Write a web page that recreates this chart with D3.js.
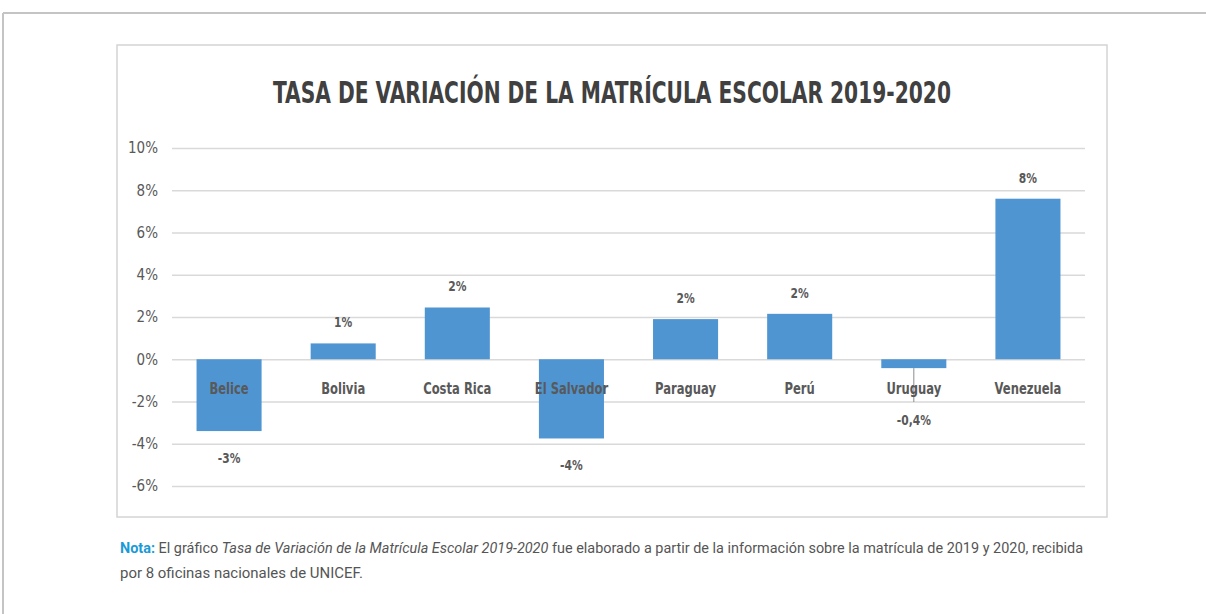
<!DOCTYPE html>
<html>
<head>
<meta charset="utf-8">
<script src="https://cdn.jsdelivr.net/npm/d3@7"></script>
<style>
  body { margin: 0; background: #fff; }
  svg { display: block; font-family: "DejaVu Sans Condensed", "Liberation Sans Narrow", sans-serif; }
</style>
</head>
<body>
<svg width="1206" height="614"></svg>
<script>
const svg = d3.select("svg");

// data
const countries = ["Belice", "Bolivia", "Costa Rica", "El Salvador", "Paraguay", "Perú", "Uruguay", "Venezuela"];
const rates = [-3.4, 0.75, 2.45, -3.75, 1.9, 2.15, -0.42, 7.6];
const rateLabels = ["-3%", "1%", "2%", "-4%", "2%", "2%", "-0,4%", "8%"];
const yTicks = [-6, -4, -2, 0, 2, 4, 6, 8, 10];

const grey = "#595959";

// page frame
svg.append("line").attr("x1", 3).attr("x2", 1206).attr("y1", 13).attr("y2", 13)
    .attr("stroke", "#c4c4c4").attr("stroke-width", 2);
svg.append("line").attr("x1", 3).attr("x2", 3).attr("y1", 13).attr("y2", 614)
    .attr("stroke", "#c4c4c4").attr("stroke-width", 2);

// chart box
svg.append("rect").attr("x", 117).attr("y", 45).attr("width", 990).attr("height", 472)
    .attr("fill", "#fff").attr("stroke", "#d4d4d4").attr("stroke-width", 1.5);

svg.append("text")
    .attr("x", 612).attr("y", 103)
    .attr("text-anchor", "middle")
    .attr("font-weight", "bold")
    .attr("font-size", 30)
    .attr("fill", "#404040")
    .attr("textLength", 678).attr("lengthAdjust", "spacingAndGlyphs")
    .text("TASA DE VARIACIÓN DE LA MATRÍCULA ESCOLAR 2019-2020");

const left = 172, right = 1085;
const y = d3.scaleLinear().domain([-6, 10]).range([486, 148]);
const x = d3.scaleBand().domain(countries).range([left, right]).paddingInner(0.43).paddingOuter(0.215);

// gridlines + y labels
const yAxis = d3.axisLeft(y).tickValues(yTicks).tickSize(-(right - left)).tickFormat(d => d + "%");
const gy = svg.append("g").attr("transform", `translate(${left},0)`).call(yAxis);
gy.select(".domain").remove();
gy.selectAll(".tick line").attr("stroke", "#d9d9d9").attr("stroke-width", 1.3);
gy.selectAll(".tick text").attr("x", -14).attr("fill", grey).attr("font-size", 15)
    .attr("font-family", "DejaVu Sans Condensed, sans-serif");

// bars
svg.selectAll("rect.bar")
    .data(rates)
    .enter()
    .append("rect")
    .attr("class", "bar")
    .attr("x", (d, i) => x(countries[i]))
    .attr("width", x.bandwidth())
    .attr("y", d => y(Math.max(0, d)))
    .attr("height", d => Math.abs(y(d) - y(0)))
    .attr("fill", "#4f95d2");

// Uruguay leader line
const uru = x("Uruguay") + x.bandwidth() / 2;
svg.append("line").attr("x1", uru).attr("x2", uru)
    .attr("y1", y(rates[6])).attr("y2", 402)
    .attr("stroke", "#8c8c8c").attr("stroke-width", 1);

// category labels, squeezed a bit to look like the narrow original font
svg.selectAll("text.cat")
    .data(countries)
    .enter()
    .append("text")
    .attr("class", "cat")
    .attr("x", d => x(d) + x.bandwidth() / 2)
    .attr("y", 394)
    .attr("text-anchor", "middle")
    .attr("font-weight", "bold")
    .attr("font-size", 15.5)
    .attr("fill", grey)
    .text(d => d)
    .each(function() {
        const w = this.getComputedTextLength();
        d3.select(this).attr("textLength", w * 0.83).attr("lengthAdjust", "spacingAndGlyphs");
    });

// value labels (some moved by hand in the original)
const labelY = (d, i) => {
    if (i === 6) return 425;
    if (d < 0) return y(d) + 32;
    return y(d) - 16;
};
svg.selectAll("text.val")
    .data(rates)
    .enter()
    .append("text")
    .attr("class", "val")
    .attr("x", (d, i) => x(countries[i]) + x.bandwidth() / 2)
    .attr("y", labelY)
    .attr("text-anchor", "middle")
    .attr("font-weight", "bold")
    .attr("font-size", 14)
    .attr("fill", grey)
    .text((d, i) => rateLabels[i])
    .each(function() {
        const w = this.getComputedTextLength();
        d3.select(this).attr("textLength", w * 0.85).attr("lengthAdjust", "spacingAndGlyphs");
    });

// note below the chart
const note = svg.append("text").attr("x", 120).attr("y", 553)
    .attr("font-size", 14).attr("fill", "#555")
    .attr("font-family", "Roboto, sans-serif")
    .attr("textLength", 963).attr("lengthAdjust", "spacingAndGlyphs");
note.append("tspan").attr("fill", "#1a9ad6").attr("font-weight", "bold").text("Nota:");
note.append("tspan").text(" El gráfico ");
note.append("tspan").attr("font-style", "italic").text("Tasa de Variación de la Matrícula Escolar 2019-2020");
note.append("tspan").text(" fue elaborado a partir de la información sobre la matrícula de 2019 y 2020, recibida");

svg.append("text").attr("x", 120).attr("y", 578)
    .attr("font-size", 14).attr("fill", "#555")
    .attr("font-family", "Roboto, sans-serif")
    .attr("textLength", 243).attr("lengthAdjust", "spacingAndGlyphs")
    .text("por 8 oficinas nacionales de UNICEF.");
</script>
</body>
</html>
